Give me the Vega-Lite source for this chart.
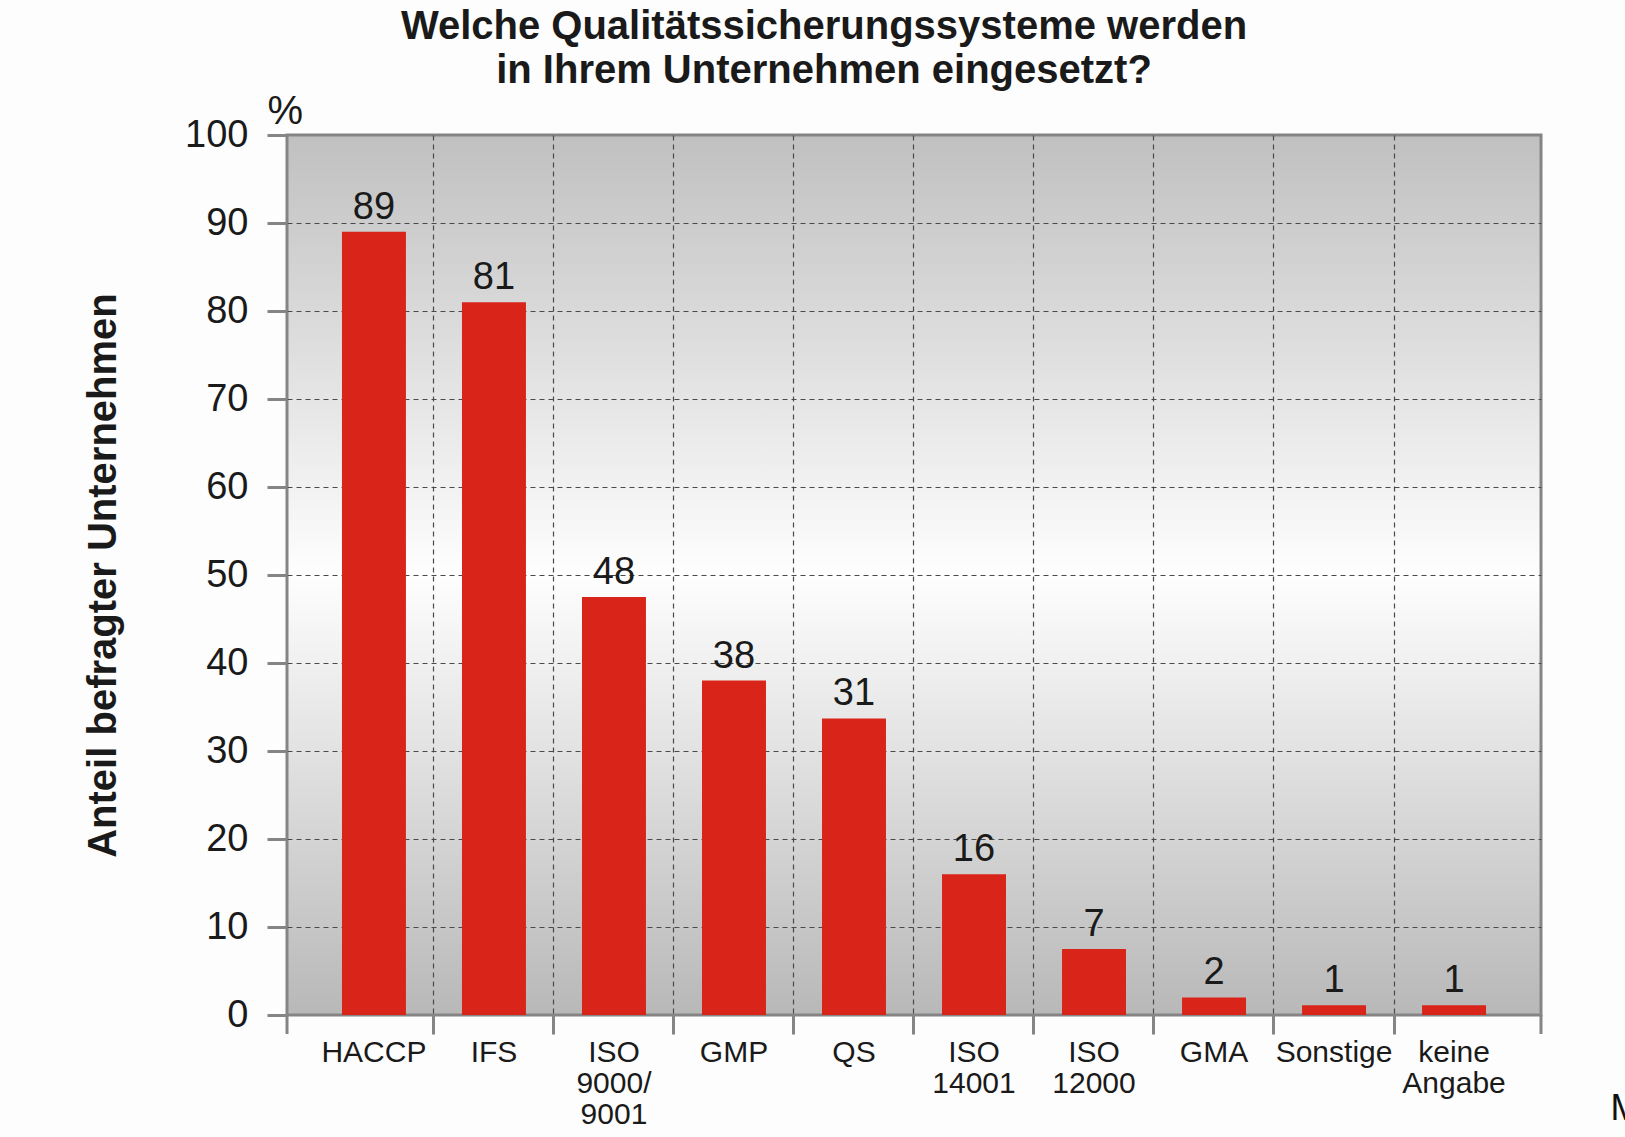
{
  "$schema": "https://vega.github.io/schema/vega-lite/v6.json",
  "autosize": {"type": "none"},
  "width": 1254,
  "height": 880,
  "padding": {"left": 287, "top": 135, "right": 84, "bottom": 122},
  "background": "#fdfdfd",
  "view": {
    "stroke": "#858585",
    "strokeWidth": 3,
    "fill": {"gradient": "linear", "x1": 0, "y1": 0, "x2": 0, "y2": 1,
      "stops": [
        {"offset": 0, "color": "#c0c0c0"},
        {"offset": 0.5, "color": "#fefefe"},
        {"offset": 1, "color": "#b8b8b8"}
      ]}
  },
  "config": {"font": "Liberation Sans"},
  "title": {
    "text": ["Welche Qualitätssicherungssysteme werden", "in Ihrem Unternehmen eingesetzt?"],
    "font": "Liberation Sans",
    "fontSize": 40,
    "fontWeight": "bold",
    "color": "#1a1a1a",
    "anchor": "middle",
    "frame": "group",
    "dx": -90,
    "lineHeight": 44,
    "offset": 0
  },
  "data": {
    "values": [
      {"system": "HACCP", "value": 89, "label": 89},
      {"system": "IFS", "value": 81, "label": 81},
      {"system": "ISO 9000/9001", "value": 47.5, "label": 48},
      {"system": "GMP", "value": 38, "label": 38},
      {"system": "QS", "value": 33.7, "label": 31},
      {"system": "ISO 14001", "value": 16, "label": 16},
      {"system": "ISO 12000", "value": 7.5, "label": 7},
      {"system": "GMA", "value": 2, "label": 2},
      {"system": "Sonstige", "value": 1.1, "label": 1},
      {"system": "keine Angabe", "value": 1.1, "label": 1}
    ]
  },
  "resolve": {"axis": {"y": "independent"}},
  "layer": [
    {
      "mark": {"type": "bar", "color": "#d92419"},
      "encoding": {
        "x": {
          "field": "system",
          "type": "nominal",
          "sort": null,
          "scale": {"paddingInner": 0.467, "paddingOuter": 0.458},
          "axis": {
            "title": "M",
            "titleX": 1323,
            "titleY": 104,
            "titleAlign": "left",
            "titleBaseline": "alphabetic",
            "titleFontSize": 36,
            "titleFontWeight": "normal",
            "titleColor": "#111111",
            "labelExpr": "datum.label == 'ISO 9000/9001' ? ['ISO', '9000/', '9001'] : split(datum.label, ' ')",
            "labelFontSize": 30,
            "labelColor": "#1a1a1a",
            "labelLineHeight": 31,
            "labelPadding": 3,
            "labelAngle": 0,
            "labelBaseline": "top",
            "labelOverlap": false,
            "bandPosition": 1.4375,
            "ticks": true,
            "tickSize": 19,
            "tickWidth": 3,
            "tickColor": "#858585",
            "tickOpacity": {"condition": {"test": "datum.value === 'keine Angabe'", "value": 0}, "value": 1},
            "grid": true,
            "gridColor": "#4a4a4a",
            "gridDash": [5, 4],
            "gridWidth": 1.2,
            "gridOpacity": {"condition": {"test": "datum.value === 'keine Angabe'", "value": 0}, "value": 1},
            "domain": false
          }
        },
        "y": {
          "field": "value",
          "type": "quantitative",
          "scale": {"domain": [0, 100], "nice": false},
          "axis": {
            "orient": "left",
            "title": "Anteil befragter Unternehmen",
            "titleFontSize": 40,
            "titleFontWeight": "bold",
            "titleColor": "#1a1a1a",
            "titleAngle": -90,
            "titleX": -172,
            "titleY": 440,
            "titleAlign": "center",
            "titleBaseline": "alphabetic",
            "values": [0, 10, 20, 30, 40, 50, 60, 70, 80, 90, 100],
            "labelFontSize": 38,
            "labelColor": "#1a1a1a",
            "labelPadding": 19,
            "tickSize": 20,
            "tickWidth": 3,
            "tickColor": "#858585",
            "grid": true,
            "gridColor": "#4a4a4a",
            "gridDash": [5, 4],
            "gridWidth": 1.2,
            "gridOpacity": {"condition": {"test": "datum.value === 0 || datum.value === 100", "value": 0}, "value": 1},
            "domain": false
          }
        }
      }
    },
    {
      "mark": {"type": "text", "baseline": "alphabetic", "dy": -13, "fontSize": 38, "color": "#1a1a1a"},
      "encoding": {
        "x": {"field": "system", "type": "nominal", "sort": null},
        "y": {
          "field": "value",
          "type": "quantitative",
          "axis": {
            "orient": "left",
            "title": "%",
            "titleAngle": 0,
            "titleX": -20,
            "titleY": -12,
            "titleAlign": "left",
            "titleBaseline": "alphabetic",
            "titleFontSize": 40,
            "titleFontWeight": "normal",
            "titleColor": "#1a1a1a",
            "labels": false,
            "ticks": false,
            "domain": false,
            "grid": false
          }
        },
        "text": {"field": "label", "type": "quantitative"}
      }
    },
    {
      "transform": [{"filter": "datum.system === 'HACCP'"}],
      "mark": {"type": "rule", "color": "#858585", "strokeWidth": 3, "y2Offset": 19},
      "encoding": {
        "x": {"field": "system", "type": "nominal", "sort": null, "bandPosition": -0.859},
        "y": {"datum": 0, "axis": null},
        "y2": {"datum": 0}
      }
    },
    {
      "transform": [{"filter": "datum.system === 'keine Angabe'"}],
      "mark": {"type": "rule", "color": "#858585", "strokeWidth": 3, "y2Offset": 19},
      "encoding": {
        "x": {"field": "system", "type": "nominal", "sort": null, "bandPosition": 1.859},
        "y": {"datum": 0, "axis": null},
        "y2": {"datum": 0}
      }
    }
  ]
}
